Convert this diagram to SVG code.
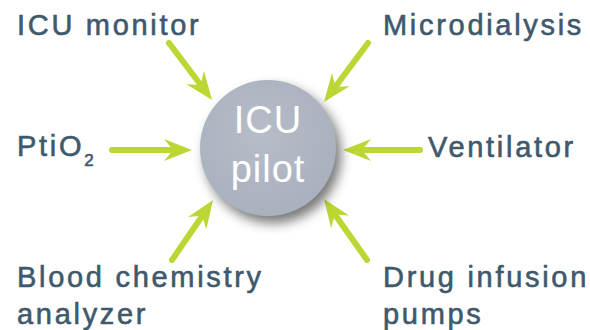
<svg xmlns="http://www.w3.org/2000/svg" width="590" height="330" viewBox="0 0 590 330">
<style>
.lbl{font-family:"Liberation Sans",Arial,sans-serif;font-size:29px;fill:#3f596c;stroke:#3f596c;stroke-width:0.6px;letter-spacing:2.7px}
.ctr{font-family:"Liberation Sans",Arial,sans-serif;font-size:38px;fill:#ffffff;text-anchor:middle;letter-spacing:1px}
.arr{stroke:#bcd634;stroke-width:6;stroke-linecap:round;fill:none;marker-end:url(#head)}
</style>
<defs>
<marker id="head" markerUnits="userSpaceOnUse" viewBox="0 -12 30 24" markerWidth="30" markerHeight="24" refX="9" refY="0" orient="auto">
<path d="M28,0 L0,-11 L9,0 L0,11 Z" fill="#bcd634"/>
</marker>
<filter id="sh" x="-30%" y="-30%" width="170%" height="170%">
<feGaussianBlur stdDeviation="6"/>
</filter>
<radialGradient id="cg" cx="0.45" cy="0.4" r="0.6">
<stop offset="0" stop-color="#b6bdc9"/>
<stop offset="1" stop-color="#aab1be"/>
</radialGradient>
</defs>
<g id="connectors">
<line class="arr" x1="169" y1="43" x2="200.6" y2="84.8"/>
<line class="arr" x1="368" y1="43" x2="335.4" y2="86.8"/>
<line class="arr" x1="112" y1="150" x2="173" y2="150"/>
<line class="arr" x1="420" y1="150" x2="362" y2="150"/>
<line class="arr" x1="172" y1="260" x2="202.3" y2="215.7"/>
<line class="arr" x1="367" y1="260" x2="334.9" y2="214.5"/>
</g>
<g id="pilot">
<circle cx="273" cy="155" r="68" fill="#4a4a4a" opacity="0.75" filter="url(#sh)"/>
<circle cx="268" cy="148" r="68" fill="url(#cg)"/>
<text class="ctr" x="268" y="133">ICU</text>
<text class="ctr" x="268" y="182">pilot</text>
</g>
<g id="icu-monitor"><text class="lbl" x="17" y="35">ICU monitor</text></g>
<g id="microdialysis"><text class="lbl" x="383" y="35">Microdialysis</text></g>
<g id="ptio2"><text class="lbl" x="17" y="156">PtiO<tspan font-size="17" dy="10" letter-spacing="0">2</tspan></text></g>
<g id="ventilator"><text class="lbl" x="428" y="157">Ventilator</text></g>
<g id="blood"><text class="lbl" x="17" y="287">Blood chemistry</text><text class="lbl" x="17" y="324">analyzer</text></g>
<g id="drug"><text class="lbl" x="383" y="287">Drug infusion</text><text class="lbl" x="383" y="324">pumps</text></g>
</svg>
